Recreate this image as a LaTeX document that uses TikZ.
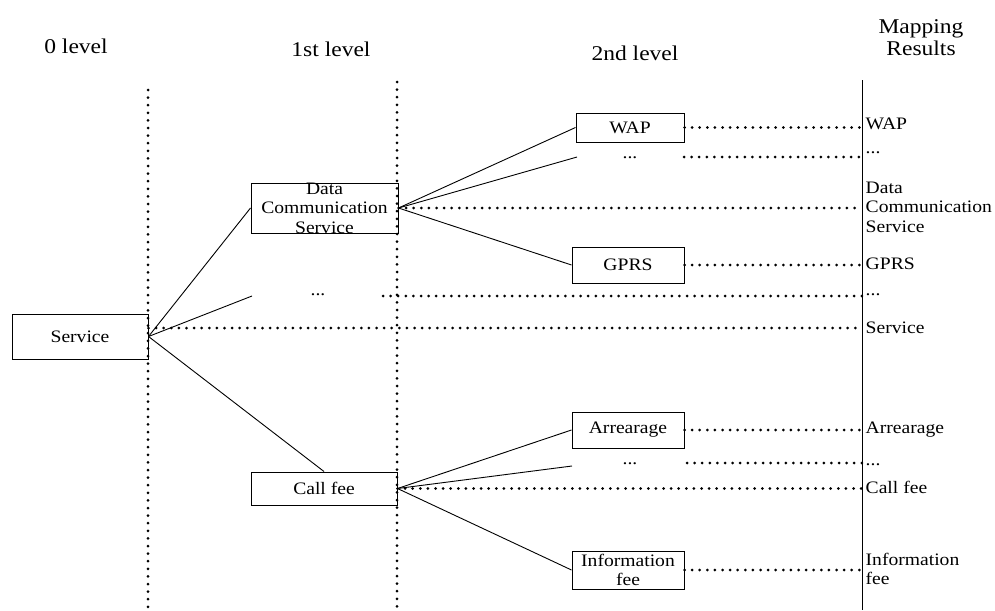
\documentclass[tikz,border=0pt]{standalone}
\usepackage{fontspec}
\setmainfont{Liberation Serif}[FakeStretch=1.12]
\usetikzlibrary{positioning,calc}
\tikzset{
  lvlbox/.style={
    draw,
    line width=1pt,
    align=center,
    inner sep=0pt,
    font=\fontsize{17.5}{19.5}\selectfont
  },
  gaptext/.style={
    inner sep=0pt,
    font=\fontsize{17.5}{19.5}\selectfont
  },
  maplabel/.style={
    anchor=west,
    align=left,
    inner xsep=3.5pt,
    inner ysep=0pt,
    font=\fontsize{17.5}{19.5}\selectfont
  },
  lvltitle/.style={
    align=center,
    font=\fontsize{21}{22}\selectfont
  },
  dotline/.style={
    line width=3pt,
    line cap=round,
    dash pattern=on 0pt off 7.6pt
  },
  link/.style={
    line width=0.9pt
  }
}

\begin{document}
\begin{tikzpicture}[x=1pt,y=-1pt]
  \useasboundingbox (0,0) rectangle (995,610);

  \node[lvltitle] (t0) at (76,46) {0 level};
  \node[lvltitle] (t1) at (331,49) {1st level};
  \node[lvltitle] (t2) at (635,53) {2nd level};
  \node[lvltitle] (t3) at (921,38) {Mapping\\Results};

  \coordinate (d0top) at (148,90);
  \coordinate (d0bot) at (148,610);
  \coordinate (d1top) at (397,82);
  \coordinate (d1bot) at (397,610);
  \coordinate (maptop) at (862,80);
  \coordinate (mapbot) at (862,610);

  \draw[dotline] (d0top) -- (d0bot);
  \draw[dotline] (d1top) -- (d1bot);
  \draw[line width=1pt] (maptop) -- (mapbot);

  \node[lvlbox, minimum width=136pt, minimum height=45pt] (svc) at (80,336.5) {Service};
  \node[lvlbox, minimum width=147pt, minimum height=50pt, inner ysep=-3pt] (dcs) at (324.5,208) {Data\\Communication\\Service};
  \node[gaptext] (gap1) at (318,295) {...};
  \coordinate (gap1w) at (252,296);
  \coordinate (gap1e) at (383,296);
  \node[lvlbox, minimum width=146pt, minimum height=33pt] (fee) at (324,488.5) {Call fee};

  \node[lvlbox, minimum width=108pt, minimum height=29pt] (wap) at (630,127.5) {WAP};
  \node[gaptext] (gap2) at (630,158) {...};
  \coordinate (gap2w) at (577,157);
  \coordinate (gap2e) at (684,157);
  \node[lvlbox, minimum width=112pt, minimum height=36pt] (gprs) at (628,265) {GPRS};
  \node[lvlbox, minimum width=112pt, minimum height=36pt] (arr) at (628,430) {Arrearage};
  \node[gaptext] (gap3) at (630,464) {...};
  \coordinate (gap3w) at (572,466);
  \coordinate (gap3e) at (687,463);
  \node[lvlbox, minimum width=112pt, minimum height=38pt, inner ysep=1pt] (info) at (628,570) {Information\\fee};

  \node[maplabel] (rwap) at (862,124) {WAP};
  \node[maplabel] (rgap2) at (862,153) {...};
  \node[maplabel] (rdcs) at (862,207) {Data\\Communication\\Service};
  \node[maplabel] (rgprs) at (862,264) {GPRS};
  \node[maplabel] (rgap1) at (862,295) {...};
  \node[maplabel] (rsvc) at (862,328) {Service};
  \node[maplabel] (rarr) at (862,430) {Arrearage};
  \node[maplabel] (rgap3) at (862,465) {...};
  \node[maplabel] (rfee) at (862,487) {Call fee};
  \node[maplabel] (rinfo) at (862,569) {Information\\fee};

  \draw[link] (svc.east) -- (dcs.west);
  \draw[link] (svc.east) -- (gap1w);
  \draw[link] (svc.east) -- (fee.north);
  \draw[link] (dcs.east) -- (wap.west);
  \draw[link] (dcs.east) -- (gap2w);
  \draw[link] (dcs.east) -- (gprs.west);
  \draw[link] (fee.east) -- (arr.west);
  \draw[link] (fee.east) -- (gap3w);
  \draw[link] (fee.east) -- (info.west);

  \draw[dotline] (wap.east) -- (wap.east -| maptop);
  \draw[dotline] (gap2e) -- (gap2e -| maptop);
  \draw[dotline] (dcs.east) -- (dcs.east -| maptop);
  \draw[dotline] (gprs.east) -- (gprs.east -| maptop);
  \draw[dotline] (gap1e) -- (gap1e -| maptop);
  \draw[dotline] (rsvc.west -| svc.east) -- (rsvc.west);
  \draw[dotline] (arr.east) -- (arr.east -| maptop);
  \draw[dotline] (gap3e) -- (gap3e -| maptop);
  \draw[dotline] (fee.east) -- (fee.east -| maptop);
  \draw[dotline] (info.east) -- (info.east -| maptop);
\end{tikzpicture}
\end{document}
